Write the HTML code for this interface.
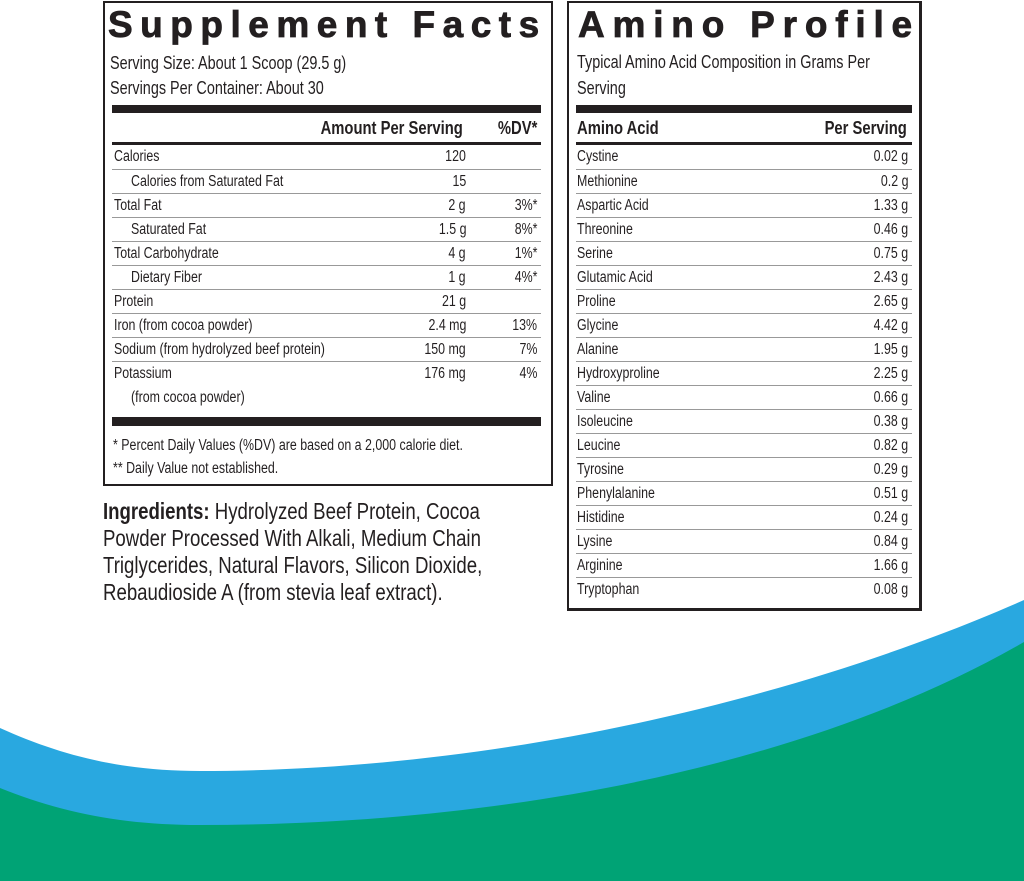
<!DOCTYPE html>
<html><head><meta charset="utf-8"><style>
body{margin:0;width:1024px;height:881px;position:relative;overflow:hidden;background:#fff;font-family:"Liberation Sans",sans-serif;color:#231f20}
.box{position:absolute;border:2px solid #231f20;box-sizing:border-box}
.t{position:absolute;white-space:nowrap;transform:scaleX(.8);transform-origin:left top}
.tr{transform-origin:right top}
.title{font-family:"Liberation Sans",sans-serif;font-weight:bold;font-size:37px;letter-spacing:7.5px;line-height:40px;transform:none;-webkit-text-stroke:0.8px #231f20}
.bar{position:absolute;background:#231f20}
.row{position:absolute;height:24px;line-height:24px;font-size:15.5px;border-top:1px solid #999;box-sizing:border-box}
.row span{position:absolute;top:0;white-space:nowrap;transform:scaleX(.8)}
.row span.l{transform-origin:left center}
.row span.r{transform-origin:right center}
.hd{font-weight:bold;font-size:18.5px}
</style></head><body>
<svg style="position:absolute;left:0;top:0" width="1024" height="881">
<path d="M0,728 C60,755 120,771 200,771 C520,771 820,690 1024,600 L1024,881 L0,881 Z" fill="#29a8e0"/>
<path d="M0,788 C60,812 120,825 200,825 C520,825 820,760 1024,642 L1024,881 L0,881 Z" fill="#00a375"/>
</svg>

<div class="box" style="left:103px;top:1px;width:450px;height:485px"></div>
<div class="t title" style="left:108px;top:5px">Supplement Facts</div>
<div class="t" style="left:110px;top:53px;font-size:18px">Serving Size: About 1 Scoop (29.5 g)</div>
<div class="t" style="left:110px;top:78px;font-size:18px">Servings Per Container: About 30</div>
<div class="bar" style="left:112px;top:105px;width:429px;height:8px"></div>
<div class="t hd tr" style="right:561px;top:117px">Amount Per Serving</div>
<div class="t hd tr" style="right:487px;top:117px">%DV*</div>
<div class="bar" style="left:112px;top:142px;width:429px;height:3px"></div>
<div style="position:absolute;left:112px;top:145px;width:429px">
<div class="row" style="top:0;width:429px;border-top:none"><span class="l" style="left:2px">Calories</span><span class="r" style="right:75px">120</span></div>
<div class="row" style="top:24px;width:429px"><span class="l" style="left:19px">Calories from Saturated Fat</span><span class="r" style="right:75px">15</span></div>
<div class="row" style="top:48px;width:429px"><span class="l" style="left:2px">Total Fat</span><span class="r" style="right:75px">2 g</span><span class="r" style="right:4px">3%*</span></div>
<div class="row" style="top:72px;width:429px"><span class="l" style="left:19px">Saturated Fat</span><span class="r" style="right:75px">1.5 g</span><span class="r" style="right:4px">8%*</span></div>
<div class="row" style="top:96px;width:429px"><span class="l" style="left:2px">Total Carbohydrate</span><span class="r" style="right:75px">4 g</span><span class="r" style="right:4px">1%*</span></div>
<div class="row" style="top:120px;width:429px"><span class="l" style="left:19px">Dietary Fiber</span><span class="r" style="right:75px">1 g</span><span class="r" style="right:4px">4%*</span></div>
<div class="row" style="top:144px;width:429px"><span class="l" style="left:2px">Protein</span><span class="r" style="right:75px">21 g</span></div>
<div class="row" style="top:168px;width:429px"><span class="l" style="left:2px">Iron (from cocoa powder)</span><span class="r" style="right:75px">2.4 mg</span><span class="r" style="right:4px">13%</span></div>
<div class="row" style="top:192px;width:429px"><span class="l" style="left:2px">Sodium (from hydrolyzed beef protein)</span><span class="r" style="right:75px">150 mg</span><span class="r" style="right:4px">7%</span></div>
<div class="row" style="top:216px;width:429px;height:48px"><span class="l" style="left:2px">Potassium</span><span class="l" style="left:19px;top:24px">(from cocoa powder)</span><span class="r" style="right:75px">176 mg</span><span class="r" style="right:4px">4%</span></div>
</div>
<div class="bar" style="left:112px;top:417px;width:429px;height:9px"></div>
<div class="t" style="left:113px;top:437px;font-size:15.5px">* Percent Daily Values (%DV) are based on a 2,000 calorie diet.</div>
<div class="t" style="left:113px;top:460px;font-size:15.5px">** Daily Value not established.</div>

<div class="t" style="left:103px;top:498px;font-size:23px;line-height:27px;transform:scaleX(.81)"><b>Ingredients:</b> Hydrolyzed Beef Protein, Cocoa<br>Powder Processed With Alkali, Medium Chain<br>Triglycerides, Natural Flavors, Silicon Dioxide,<br>Rebaudioside A (from stevia leaf extract).</div>

<div class="box" style="left:567px;top:1px;width:355px;height:610px;border-width:2px 3px 3px 2px"></div>
<div class="t title" style="left:578px;top:5px;letter-spacing:7.8px">Amino Profile</div>
<div class="t" style="left:577px;top:52px;font-size:18px">Typical Amino Acid Composition in Grams Per</div>
<div class="t" style="left:577px;top:78px;font-size:18px">Serving</div>
<div class="bar" style="left:576px;top:105px;width:336px;height:8px"></div>
<div class="t hd" style="left:577px;top:117px">Amino Acid</div>
<div class="t hd tr" style="right:117px;top:117px">Per Serving</div>
<div class="bar" style="left:576px;top:142px;width:336px;height:3px"></div>
<div style="position:absolute;left:576px;top:145px;width:336px">
<div class="row" style="top:0;width:336px;border-top:none"><span class="l" style="left:1px">Cystine</span><span class="r" style="right:4px">0.02 g</span></div>
<div class="row" style="top:24px;width:336px"><span class="l" style="left:1px">Methionine</span><span class="r" style="right:4px">0.2 g</span></div>
<div class="row" style="top:48px;width:336px"><span class="l" style="left:1px">Aspartic Acid</span><span class="r" style="right:4px">1.33 g</span></div>
<div class="row" style="top:72px;width:336px"><span class="l" style="left:1px">Threonine</span><span class="r" style="right:4px">0.46 g</span></div>
<div class="row" style="top:96px;width:336px"><span class="l" style="left:1px">Serine</span><span class="r" style="right:4px">0.75 g</span></div>
<div class="row" style="top:120px;width:336px"><span class="l" style="left:1px">Glutamic Acid</span><span class="r" style="right:4px">2.43 g</span></div>
<div class="row" style="top:144px;width:336px"><span class="l" style="left:1px">Proline</span><span class="r" style="right:4px">2.65 g</span></div>
<div class="row" style="top:168px;width:336px"><span class="l" style="left:1px">Glycine</span><span class="r" style="right:4px">4.42 g</span></div>
<div class="row" style="top:192px;width:336px"><span class="l" style="left:1px">Alanine</span><span class="r" style="right:4px">1.95 g</span></div>
<div class="row" style="top:216px;width:336px"><span class="l" style="left:1px">Hydroxyproline</span><span class="r" style="right:4px">2.25 g</span></div>
<div class="row" style="top:240px;width:336px"><span class="l" style="left:1px">Valine</span><span class="r" style="right:4px">0.66 g</span></div>
<div class="row" style="top:264px;width:336px"><span class="l" style="left:1px">Isoleucine</span><span class="r" style="right:4px">0.38 g</span></div>
<div class="row" style="top:288px;width:336px"><span class="l" style="left:1px">Leucine</span><span class="r" style="right:4px">0.82 g</span></div>
<div class="row" style="top:312px;width:336px"><span class="l" style="left:1px">Tyrosine</span><span class="r" style="right:4px">0.29 g</span></div>
<div class="row" style="top:336px;width:336px"><span class="l" style="left:1px">Phenylalanine</span><span class="r" style="right:4px">0.51 g</span></div>
<div class="row" style="top:360px;width:336px"><span class="l" style="left:1px">Histidine</span><span class="r" style="right:4px">0.24 g</span></div>
<div class="row" style="top:384px;width:336px"><span class="l" style="left:1px">Lysine</span><span class="r" style="right:4px">0.84 g</span></div>
<div class="row" style="top:408px;width:336px"><span class="l" style="left:1px">Arginine</span><span class="r" style="right:4px">1.66 g</span></div>
<div class="row" style="top:432px;width:336px"><span class="l" style="left:1px">Tryptophan</span><span class="r" style="right:4px">0.08 g</span></div>
</div>
</body></html>
